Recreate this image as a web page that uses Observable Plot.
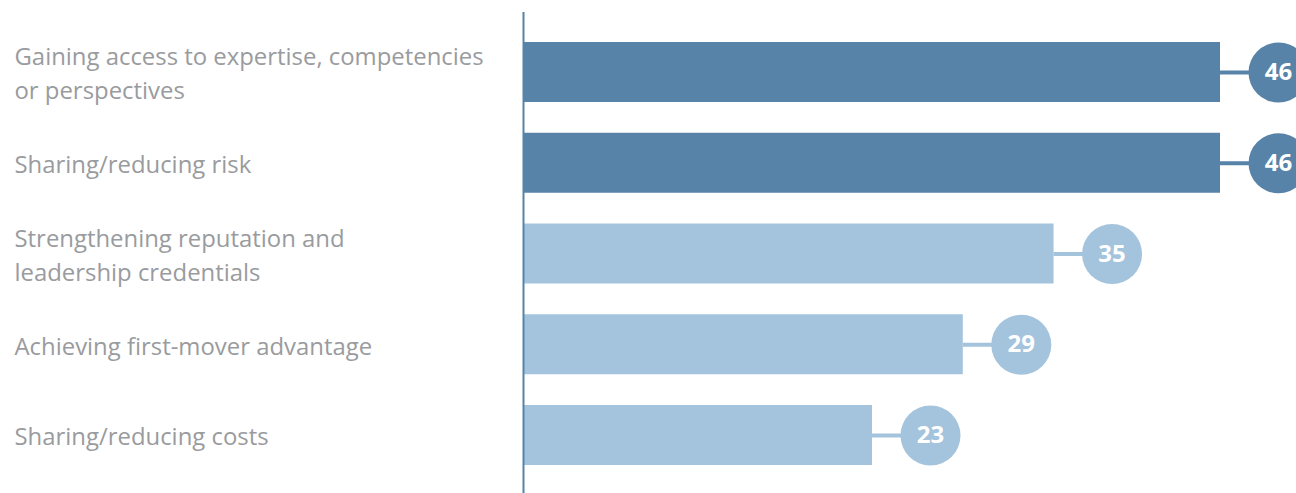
<!DOCTYPE html>
<html>
<head>
<meta charset="utf-8">
<script src="https://cdn.jsdelivr.net/npm/d3@7"></script>
<script src="https://cdn.jsdelivr.net/npm/@observablehq/plot@0.6"></script>
<style>
  html, body { margin: 0; padding: 0; background: #fff; }
  #chart svg { display: block; }
</style>
</head>
<body>
<div id="chart"></div>
<script>
const categories = [
  "Gaining access to expertise, competencies\nor perspectives",
  "Sharing/reducing risk",
  "Strengthening reputation and\nleadership credentials",
  "Achieving first-mover advantage",
  "Sharing/reducing costs"
];
const values = [46, 46, 35, 29, 23];
const highlight = [true, true, false, false, false];

const data = categories.map((c, i) => ({label: c, value: values[i], hi: highlight[i]}));
const dark = "#5783a8";
const light = "#a4c3dc";
const col = d => d.hi ? dark : light;

const chart = Plot.plot({
  width: 1296,
  height: 493,
  marginLeft: 524,
  marginRight: 76,
  marginTop: 12,
  marginBottom: 0,
  style: {fontFamily: "Lato, sans-serif", background: "#fff"},
  x: {domain: [0, 46], axis: null},
  y: {domain: categories, range: [42, 465], paddingInner: 0.339, paddingOuter: 0, round: false, label: null},
  marks: [
    Plot.axisY({tickSize: 0, tickPadding: 510, textAnchor: "start", fontSize: 23.9, lineHeight: 1.42, fill: "#999b9e", fontWeight: 400, fontFamily: "Open Sans, sans-serif", dy: -1}),
    Plot.barX(data, {y: "label", x1: 0, x2: "value", fill: col}),
    Plot.ruleY(data, {y: "label", x1: "value", x2: "value", insetRight: -58, stroke: col, strokeWidth: 4}),
    Plot.dot(data, {y: "label", x: "value", dx: 58, r: 30, fill: col, stroke: "none"}),
    Plot.text(data, {y: "label", x: "value", dx: 58, text: d => String(d.value), fill: "#fff", fontSize: 24, fontWeight: 700, fontFamily: "Open Sans, sans-serif"}),
    Plot.ruleX([0], {stroke: dark, strokeWidth: 2, dx: -1})
  ]
});
document.getElementById("chart").appendChild(chart);
</script>
</body>
</html>
